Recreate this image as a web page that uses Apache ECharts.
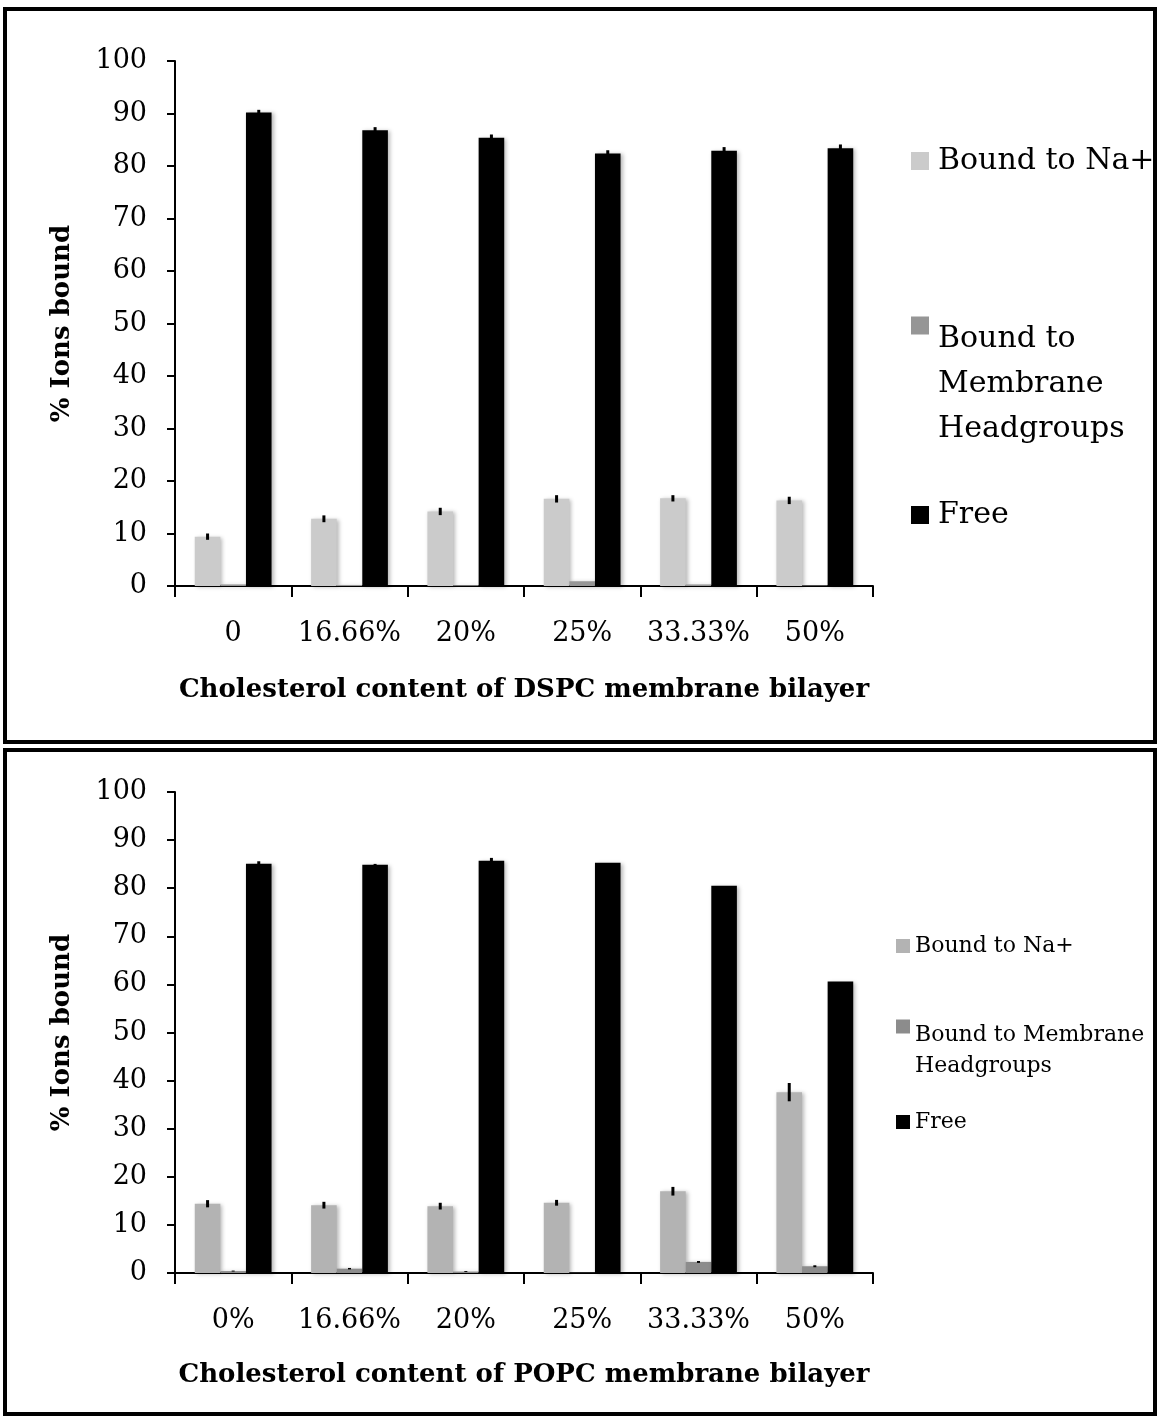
<!DOCTYPE html>
<html>
<head>
<meta charset="utf-8">
<script src="https://cdn.jsdelivr.net/npm/echarts@6/dist/echarts.min.js"></script>
<style>
html,body{margin:0;padding:0;background:#fff;}
#top{position:absolute;left:0;top:0;width:1159px;height:746px;}
#bot{position:absolute;left:0;top:746px;width:1159px;height:670px;}
</style>
</head>
<body>
<div id="top"></div>
<div id="bot"></div>
<script>
// ---- Data (top: DSPC) ----
const cats1 = ['0', '16.66%', '20%', '25%', '33.33%', '50%'];
const na1 = [9.4, 12.8, 14.2, 16.6, 16.7, 16.3];
const na1Err = [0.6, 0.65, 0.7, 0.7, 0.6, 0.7];
const head1 = [0.3, 0.2, 0.15, 0.9, 0.3, 0.1];
const head1Err = [0, 0, 0, 0, 0, 0];
const free1 = [90.2, 86.8, 85.4, 82.4, 82.9, 83.4];
const free1Err = [0.5, 0.6, 0.6, 0.6, 0.7, 0.7];

// ---- Data (bottom: POPC) ----
const cats2 = ['0%', '16.66%', '20%', '25%', '33.33%', '50%'];
const na2 = [14.4, 14.1, 13.9, 14.6, 17.0, 37.6];
const na2Err = [0.75, 0.7, 0.7, 0.6, 0.9, 1.9];
const head2 = [0.4, 0.9, 0.3, 0.05, 2.3, 1.4];
const head2Err = [0.1, 0.15, 0.1, 0, 0.2, 0.2];
const free2 = [85.1, 84.9, 85.7, 85.3, 80.5, 60.6];
const free2Err = [0.5, 0.15, 0.6, 0, 0, 0];

const yTicks = [0, 10, 20, 30, 40, 50, 60, 70, 80, 90, 100];
const seriesNames = ['Bound to Na+', 'Bound to Membrane Headgroups', 'Free'];

const SERIF = 'DejaVu Serif';
const GAP = 0.34;

function errSeries(vals, errs, idx) {
  return {
    type: 'custom',
    silent: true,
    z: 10,
    data: vals.map((v, i) => [i, v, errs[i]]),
    renderItem: function (params, api) {
      const i = api.value(0), v = api.value(1), e = api.value(2);
      if (!e) return null;
      const band = api.size([1, 0])[0];
      const bw = band * (1 - GAP) / 3;
      const off = (idx - 1) * bw;
      const p1 = api.coord([i, v - e]);
      const p2 = api.coord([i, v + e]);
      return {
        type: 'line',
        shape: { x1: p1[0] + off, y1: p1[1], x2: p2[0] + off, y2: p2[1] },
        style: { stroke: '#000', lineWidth: 3 }
      };
    }
  };
}

function barSeries(name, vals, color) {
  return {
    name: name,
    type: 'bar',
    data: vals,
    barGap: 0,
    barCategoryGap: (GAP * 100) + '%',
    itemStyle: {
      color: color,
      shadowColor: 'rgba(0,0,0,0.28)',
      shadowBlur: 4,
      shadowOffsetX: 2,
      shadowOffsetY: 1
    }
  };
}

function buildOption(cfg) {
  const legends = cfg.legendItems.map(li => ({
    data: [li.name],
    orient: 'vertical',
    left: cfg.legendLeft,
    top: li.top,
    padding: 0,
    itemWidth: cfg.iconSize,
    itemHeight: li.itemHeight,
    icon: li.icon,
    selectedMode: false,
    formatter: () => li.text,
    textStyle: {
      fontFamily: SERIF,
      fontSize: cfg.legendFont,
      lineHeight: cfg.legendLine,
      color: '#000',
      padding: [0, 0, 0, cfg.textPad]
    }
  }));
  return {
    animation: false,
    backgroundColor: '#fff',
    legend: legends,
    grid: { left: 175, right: 286, top: cfg.gridTop, bottom: cfg.gridBottom, containLabel: false },
    xAxis: {
      type: 'category',
      data: cfg.cats,
      name: cfg.xName,
      nameLocation: 'middle',
      nameGap: cfg.xNameGap,
      nameTextStyle: { fontFamily: SERIF, fontWeight: 'bold', fontSize: 26, color: '#000' },
      axisLine: { lineStyle: { color: '#000', width: 2 } },
      axisTick: { show: true, alignWithLabel: false, interval: 0, length: 11, lineStyle: { color: '#000', width: 2 } },
      axisLabel: { fontFamily: SERIF, fontSize: 27, color: '#000', margin: 34, interval: 0 }
    },
    yAxis: {
      type: 'value',
      min: yTicks[0],
      max: yTicks[yTicks.length - 1],
      interval: 10,
      name: '% Ions bound',
      nameLocation: 'middle',
      nameGap: 100,
      nameRotate: 90,
      nameTextStyle: { fontFamily: SERIF, fontWeight: 'bold', fontSize: 26, color: '#000' },
      axisLine: { show: true, lineStyle: { color: '#000', width: 2 } },
      axisTick: { show: true, length: 8, lineStyle: { color: '#000', width: 2 } },
      axisLabel: { fontFamily: SERIF, fontSize: 27, color: '#000', margin: 28 },
      splitLine: { show: false }
    },
    graphic: [{
      type: 'rect',
      shape: cfg.frame,
      style: { fill: 'none', stroke: '#000', lineWidth: 4 },
      silent: true
    }],
    series: [
      barSeries(seriesNames[0], cfg.na, cfg.colors[0]),
      barSeries(seriesNames[1], cfg.head, cfg.colors[1]),
      barSeries(seriesNames[2], cfg.free, cfg.colors[2]),
      errSeries(cfg.na, cfg.naErr, 0),
      errSeries(cfg.head, cfg.headErr, 1),
      errSeries(cfg.free, cfg.freeErr, 2)
    ]
  };
}

const topChart = echarts.init(document.getElementById('top'));
topChart.setOption(buildOption({
  cats: cats1, na: na1, naErr: na1Err, head: head1, headErr: head1Err, free: free1, freeErr: free1Err,
  colors: ['#cbcbcb', '#969696', '#000000'],
  gridTop: 61, gridBottom: 160,
  xName: 'Cholesterol content of DSPC membrane bilayer', xNameGap: 91,
  frame: { x: 5, y: 9, width: 1150, height: 733 },
  legendLeft: 911, iconSize: 18, legendFont: 30, legendLine: 45, textPad: 4,
  legendItems: [
    { name: seriesNames[0], text: 'Bound to Na+', top: 138.5, itemHeight: 18, icon: 'rect' },
    { name: seriesNames[1], text: 'Bound to\nMembrane\nHeadgroups', top: 316.5, itemHeight: 135, icon: 'path://M0,0H1V1H0Z M0,7.5L0,7.5' },
    { name: seriesNames[2], text: 'Free', top: 492.5, itemHeight: 18, icon: 'rect' }
  ]
}));

const botChart = echarts.init(document.getElementById('bot'));
botChart.setOption(buildOption({
  cats: cats2, na: na2, naErr: na2Err, head: head2, headErr: head2Err, free: free2, freeErr: free2Err,
  colors: ['#b3b3b3', '#8c8c8c', '#000000'],
  gridTop: 46, gridBottom: 143,
  xName: 'Cholesterol content of POPC membrane bilayer', xNameGap: 89,
  frame: { x: 5, y: 4, width: 1150, height: 664 },
  legendLeft: 896, iconSize: 14, legendFont: 22, legendLine: 31, textPad: 0,
  legendItems: [
    { name: seriesNames[0], text: 'Bound to Na+', top: 184.5, itemHeight: 14, icon: 'rect' },
    { name: seriesNames[1], text: 'Bound to Membrane\nHeadgroups', top: 273.5, itemHeight: 62, icon: 'path://M0,0H1V1H0Z M0,4.43L0,4.43' },
    { name: seriesNames[2], text: 'Free', top: 360.5, itemHeight: 14, icon: 'rect' }
  ]
}));
</script>
</body>
</html>
